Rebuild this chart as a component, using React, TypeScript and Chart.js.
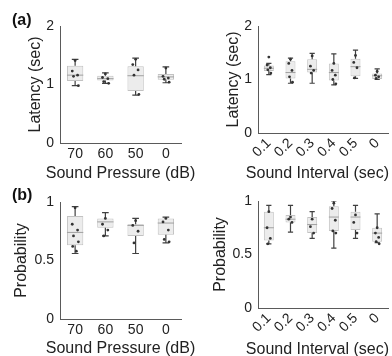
import React, { useEffect, useRef } from 'react';
import { Chart, registerables } from 'chart.js';

Chart.register(...registerables);

const FONT = "'Liberation Sans', Arial, sans-serif";

// Category labels
const pressureLabels = ['70', '60', '50', '0'];
const intervalLabels = ['0.1', '0.2', '0.3', '0.4', '0.5', '0'];

// (a) Latency vs sound pressure
const latPressLow = [0.98, 1.02, 0.82, 1.03];
const latPressQ1 = [1.06, 1.07, 0.89, 1.08];
const latPressMed = [1.16, 1.10, 1.15, 1.13];
const latPressQ3 = [1.32, 1.15, 1.31, 1.18];
const latPressHigh = [1.43, 1.20, 1.45, 1.30];
const latPressPoints = [
  [1.41, 1.23, 1.16, 1.14, 0.98],
  [1.18, 1.12, 1.10, 1.05, 1.02],
  [1.43, 1.34, 1.25, 1.16, 0.83],
  [1.28, 1.14, 1.11, 1.09, 1.04],
];

// (a) Latency vs sound interval
const latIntLow = [1.09, 0.93, 0.93, 0.90, 1.02, 1.00];
const latIntQ1 = [1.16, 1.02, 1.13, 0.98, 1.06, 1.01];
const latIntMed = [1.21, 1.13, 1.19, 1.13, 1.24, 1.07];
const latIntQ3 = [1.26, 1.34, 1.38, 1.30, 1.39, 1.11];
const latIntHigh = [1.30, 1.40, 1.49, 1.48, 1.55, 1.20];
const latIntPoints = [
  [1.42, 1.27, 1.22, 1.18, 1.12],
  [1.38, 1.30, 1.17, 1.05, 0.95],
  [1.44, 1.25, 1.17, 1.12],
  [1.30, 1.17, 1.08, 1.00, 0.92],
  [1.45, 1.32, 1.22, 1.03],
  [1.15, 1.08, 1.05, 1.02],
];

// (b) Probability vs sound pressure
const probPressLow = [0.56, 0.71, 0.56, 0.65];
const probPressQ1 = [0.63, 0.78, 0.71, 0.72];
const probPressMed = [0.74, 0.83, 0.80, 0.82];
const probPressQ3 = [0.88, 0.86, 0.81, 0.86];
const probPressHigh = [0.96, 0.91, 0.86, 0.87];
const probPressPoints = [
  [0.95, 0.81, 0.76, 0.71, 0.66, 0.62, 0.58],
  [0.86, 0.81, 0.76, 0.71],
  [0.84, 0.80, 0.75, 0.65],
  [0.86, 0.83, 0.76, 0.68, 0.66],
];

// (b) Probability vs sound interval
const probIntLow = [0.60, 0.71, 0.65, 0.56, 0.65, 0.61];
const probIntQ1 = [0.63, 0.80, 0.70, 0.72, 0.73, 0.62];
const probIntMed = [0.75, 0.83, 0.78, 0.85, 0.85, 0.70];
const probIntQ3 = [0.90, 0.87, 0.85, 0.95, 0.90, 0.75];
const probIntHigh = [0.96, 0.96, 0.90, 1.00, 0.96, 0.88];
const probIntPoints = [
  [0.90, 0.75, 0.65, 0.60],
  [0.85, 0.83, 0.80],
  [0.83, 0.76, 0.70],
  [0.98, 0.93, 0.82, 0.72, 0.70],
  [0.87, 0.80, 0.70],
  [0.75, 0.70, 0.66, 0.62, 0.60],
];

const latencyTicks = [0, 1, 2];
const probabilityTicks = [0, 0.5, 1];

const JITTER = [0, -0.35, 0.3, -0.2, 0.4, -0.3, 0.15];

type Panel = {
  labels: string[];
  low: number[]; q1: number[]; med: number[]; q3: number[]; high: number[];
  points: number[][];
  yTicks: number[]; ymax: number;
  xTitle: string; yTitle: string;
  left: number; top: number; w: number; h: number;
  padT: number; padR: number; yw: number; xh: number;
  xpad: number; rot: number; xTitleY: number; yTitlePad: number;
  align: 'center' | 'end'; half: number; cap: number;
};

function xTitlePlugin(p: Panel) {
  return {
    id: 'xAxisTitleFree',
    afterDraw(chart: any) {
      const { ctx, chartArea } = chart;
      ctx.save();
      ctx.font = `16px ${FONT}`;
      ctx.fillStyle = '#222222';
      ctx.textBaseline = 'middle';
      if (p.align === 'center') {
        ctx.textAlign = 'center';
        ctx.fillText(p.xTitle, (chartArea.left + chartArea.right) / 2, p.xTitleY);
      } else {
        ctx.textAlign = 'right';
        ctx.fillText(p.xTitle, chartArea.right + 1, p.xTitleY);
      }
      ctx.restore();
    },
  };
}

function makeConfig(p: Panel): any {
  const n = p.labels.length;
  const medianPts: any[] = [];
  const whiskerPts: any[] = [];
  const dots: any[] = [];
  for (let i = 0; i < n; i++) {
    const c = i + 1;
    medianPts.push({ x: c - p.half, y: p.med[i] }, { x: c + p.half, y: p.med[i] }, { x: c, y: null });
    whiskerPts.push(
      { x: c, y: p.q3[i] }, { x: c, y: p.high[i] }, { x: c, y: null },
      { x: c - p.cap, y: p.high[i] }, { x: c + p.cap, y: p.high[i] }, { x: c, y: null },
      { x: c, y: p.q1[i] }, { x: c, y: p.low[i] }, { x: c, y: null },
      { x: c - p.cap, y: p.low[i] }, { x: c + p.cap, y: p.low[i] }, { x: c, y: null },
    );
    p.points[i].forEach((v, j) => dots.push({ x: c + JITTER[j % JITTER.length] * p.half, y: v }));
  }
  const tickFont = { family: FONT, size: 14 };
  const titleFont = { family: FONT, size: 16 };
  return {
    type: 'bar',
    data: {
      datasets: [
        {
          type: 'bar',
          data: p.labels.map((_, i) => ({ x: i + 1, y: [p.q1[i], p.q3[i]] })),
          backgroundColor: '#ececec',
          borderColor: '#c2c2c2',
          borderWidth: 1,
          borderSkipped: false,
          barPercentage: p.half * 2,
          categoryPercentage: 1,
          order: 4,
        },
        {
          type: 'line', data: medianPts, borderColor: '#a0a0a0', borderWidth: 1,
          pointRadius: 0, spanGaps: false, fill: false, order: 3,
        },
        {
          type: 'line', data: whiskerPts, borderColor: '#404040', borderWidth: 1.2,
          pointRadius: 0, spanGaps: false, fill: false, order: 2,
        },
        {
          type: 'scatter', data: dots, pointRadius: 1.4, backgroundColor: '#333333',
          borderWidth: 0, order: 1,
        },
      ],
    },
    plugins: [xTitlePlugin(p)],
    options: {
      responsive: false,
      animation: false,
      devicePixelRatio: 1,
      events: [],
      layout: { padding: { left: 0, right: p.padR, top: p.padT, bottom: 0 } },
      plugins: { legend: { display: false }, tooltip: { enabled: false } },
      scales: {
        x: {
          type: 'linear', min: 0.5, max: n + 0.5, offset: false,
          afterBuildTicks: (s: any) => { s.ticks = p.labels.map((_, i) => ({ value: i + 1 })); },
          afterFit: (s: any) => { s.height = p.xh; },
          grid: { display: false, drawTicks: false },
          border: { display: true, color: '#5a5a5a', width: 1 },
          ticks: {
            autoSkip: false, font: tickFont, color: '#222222', padding: p.xpad,
            minRotation: p.rot, maxRotation: p.rot,
            callback: (v: any) => p.labels[Math.round(v) - 1] ?? '',
          },
          title: { display: false },
        },
        y: {
          type: 'linear', min: 0, max: p.ymax,
          afterBuildTicks: (s: any) => { s.ticks = p.yTicks.map((v) => ({ value: v })); },
          afterFit: (s: any) => { s.width = p.yw; },
          grid: { display: false, drawTicks: false },
          border: { display: true, color: '#5a5a5a', width: 1 },
          ticks: { font: tickFont, color: '#222222', padding: 6, callback: (v: any) => String(v) },
          title: {
            display: true, text: p.yTitle, font: titleFont, color: '#222222',
            padding: { top: p.yTitlePad, bottom: 0 },
          },
        },
      },
    },
  };
}

const panels: Panel[] = [
  {
    labels: pressureLabels, low: latPressLow, q1: latPressQ1, med: latPressMed, q3: latPressQ3, high: latPressHigh,
    points: latPressPoints, yTicks: latencyTicks, ymax: 2, xTitle: 'Sound Pressure (dB)', yTitle: 'Latency (sec)',
    left: 0, top: 0, w: 196, h: 190, padT: 26, padR: 15, yw: 60, xh: 47, xpad: 3, rot: 0,
    xTitleY: 174, yTitlePad: 26, align: 'center', half: 0.27, cap: 0.11,
  },
  {
    labels: intervalLabels, low: latIntLow, q1: latIntQ1, med: latIntMed, q3: latIntQ3, high: latIntHigh,
    points: latIntPoints, yTicks: latencyTicks, ymax: 2, xTitle: 'Sound Interval (sec)', yTitle: 'Latency (sec)',
    left: 196, top: 0, w: 196, h: 190, padT: 26, padR: 3, yw: 62, xh: 57, xpad: 2, rot: 45,
    xTitleY: 174, yTitlePad: 28, align: 'end', half: 0.23, cap: 0.12,
  },
  {
    labels: pressureLabels, low: probPressLow, q1: probPressQ1, med: probPressMed, q3: probPressQ3, high: probPressHigh,
    points: probPressPoints, yTicks: probabilityTicks, ymax: 1, xTitle: 'Sound Pressure (dB)', yTitle: 'Probability',
    left: 0, top: 176, w: 196, h: 190, padT: 26, padR: 15, yw: 60, xh: 47, xpad: 3, rot: 0,
    xTitleY: 172.5, yTitlePad: 12, align: 'center', half: 0.27, cap: 0.11,
  },
  {
    labels: intervalLabels, low: probIntLow, q1: probIntQ1, med: probIntMed, q3: probIntQ3, high: probIntHigh,
    points: probIntPoints, yTicks: probabilityTicks, ymax: 1, xTitle: 'Sound Interval (sec)', yTitle: 'Probability',
    left: 196, top: 176, w: 196, h: 190, padT: 25, padR: 3, yw: 62, xh: 58, xpad: 2, rot: 45,
    xTitleY: 174, yTitlePad: 15, align: 'end', half: 0.23, cap: 0.12,
  },
];

function BoxPanel({ panel }: { panel: Panel }) {
  const ref = useRef<HTMLCanvasElement>(null);
  useEffect(() => {
    const chart = new Chart(ref.current as HTMLCanvasElement, makeConfig(panel));
    return () => chart.destroy();
  }, [panel]);
  return (
    <canvas
      ref={ref}
      width={panel.w}
      height={panel.h}
      style={{ position: 'absolute', left: panel.left, top: panel.top, width: panel.w, height: panel.h }}
    />
  );
}

const tagStyle: React.CSSProperties = {
  position: 'absolute', fontFamily: FONT, fontWeight: 'bold', fontSize: 16, lineHeight: '18px', color: '#111',
};

export default function App() {
  return (
    <div style={{ position: 'absolute', left: 0, top: 0, width: 392, height: 356, overflow: 'hidden', background: '#fff' }}>
      {panels.map((p, i) => <BoxPanel key={i} panel={p} />)}
      <div style={{ ...tagStyle, left: 12, top: 11 }}>(a)</div>
      <div style={{ ...tagStyle, left: 12, top: 186 }}>(b)</div>
    </div>
  );
}
